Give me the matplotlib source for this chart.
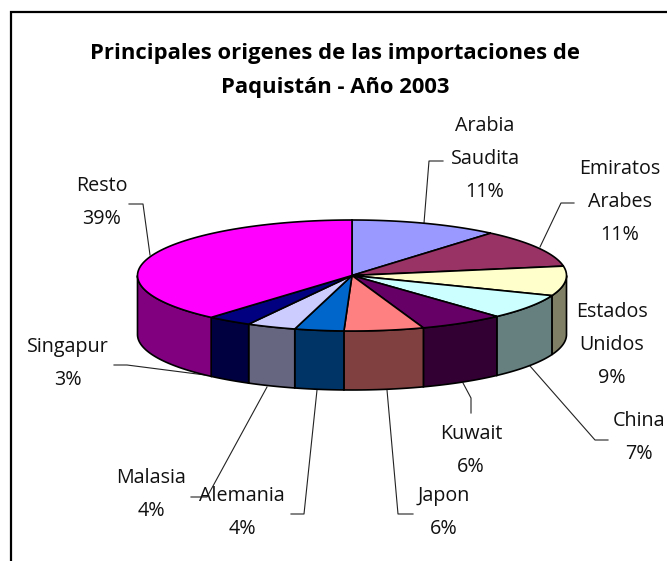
import numpy as np
import matplotlib
matplotlib.use("Agg")
import matplotlib.pyplot as plt
from matplotlib.patches import Polygon

labels = ["Arabia\nSaudita\n11%", "Emiratos\nArabes\n11%", "Estados\nUnidos\n9%", "China\n7%",
          "Kuwait\n6%", "Japon\n6%", "Alemania\n4%", "Malasia\n4%", "Singapur\n3%", "Resto\n39%"]
values = [11.2, 11.1, 8.6, 7.3, 6.4, 6.0, 3.7, 3.7, 3.4, 38.6]
top_colors = ["#9999FF", "#993366", "#FFFFCC", "#CCFFFF", "#660066", "#FF8080", "#0066CC", "#CCCCFF", "#000080", "#FF00FF"]
side_colors = ["#6B6BB3", "#6B2447", "#7F7F66", "#668080", "#330033", "#804040", "#003366", "#666680", "#000040", "#800080"]
label_xy = [(485, 126), (620, 169), (612, 312), (639, 421), (471, 434), (444, 496), (242, 496), (151, 478), (68, 347), (102, 186)]
leaders = [[(424, 223), (429, 161), (443, 161)], [(540, 247), (561, 203), (574, 203)],
           None, [(530, 366), (595, 440), (608, 440)],
           [(463, 383), (471, 398), (471, 413)], [(387, 390), (398, 514), (413, 514)],
           [(317, 390), (304, 514), (291, 514)], [(267, 387), (207, 497), (191, 497)],
           [(205, 375), (127, 365), (114, 365)], [(150, 255), (143, 204), (129, 204)]]

W, H = 667, 561
fig = plt.figure(figsize=(W / 100, H / 100), dpi=100, facecolor="white")
ax = fig.add_axes([0, 0, 1, 1])
ax.set_xlim(0, W); ax.set_ylim(H, 0); ax.axis("off")
ax.plot([10.5, 10.5, 667], [561, 11.5, 11.5], color="black", lw=1.6, zorder=0, solid_joinstyle="miter")

FONT = "Open Sans"
cx, cy, rx, ry, depth = 352, 275.5, 214.5, 55.5, 59
fracs = np.cumsum([0] + values) / sum(values)

def pt(a, dy=0):
    return cx + rx * np.sin(a), cy - ry * np.cos(a) + dy

for i in range(len(values)):
    a0, a1 = 2 * np.pi * fracs[i], 2 * np.pi * fracs[i + 1]
    s0, s1 = max(a0, np.pi / 2), min(a1, 3 * np.pi / 2)
    if s1 <= s0:
        continue
    t = np.linspace(s0, s1, 60)
    x, y = pt(t)
    xb, yb = pt(t[::-1], depth)
    ax.add_patch(Polygon(np.r_[np.c_[x, y], np.c_[xb, yb]], fc=side_colors[i], ec="black", lw=1.2, zorder=2))

for i in range(len(values)):
    t = np.linspace(2 * np.pi * fracs[i], 2 * np.pi * fracs[i + 1], 80)
    x, y = pt(t)
    ax.add_patch(Polygon(np.r_[[[cx, cy]], np.c_[x, y]], fc=top_colors[i], ec="black", lw=1.2, zorder=3))

for path in leaders:
    if path is None:
        continue
    p = np.array(path)
    ax.plot(p[:, 0], p[:, 1], color="#222222", lw=0.8, zorder=1)

for s, (x, y) in zip(labels, label_xy):
    for k, line in enumerate(s.split("\n")):
        ax.text(x, y + 33 * k, line, ha="center", va="center", fontsize=14.2, family=FONT, zorder=5, color="#111111")

ax.text(335, 53, "Principales origenes de las importaciones de", ha="center", va="center",
        fontsize=15.8, fontweight="bold", family=FONT)
ax.text(335, 87, "Paquistán - Año 2003", ha="center", va="center", fontsize=15.8, fontweight="bold", family=FONT)

fig.savefig("out.png", dpi=100)
